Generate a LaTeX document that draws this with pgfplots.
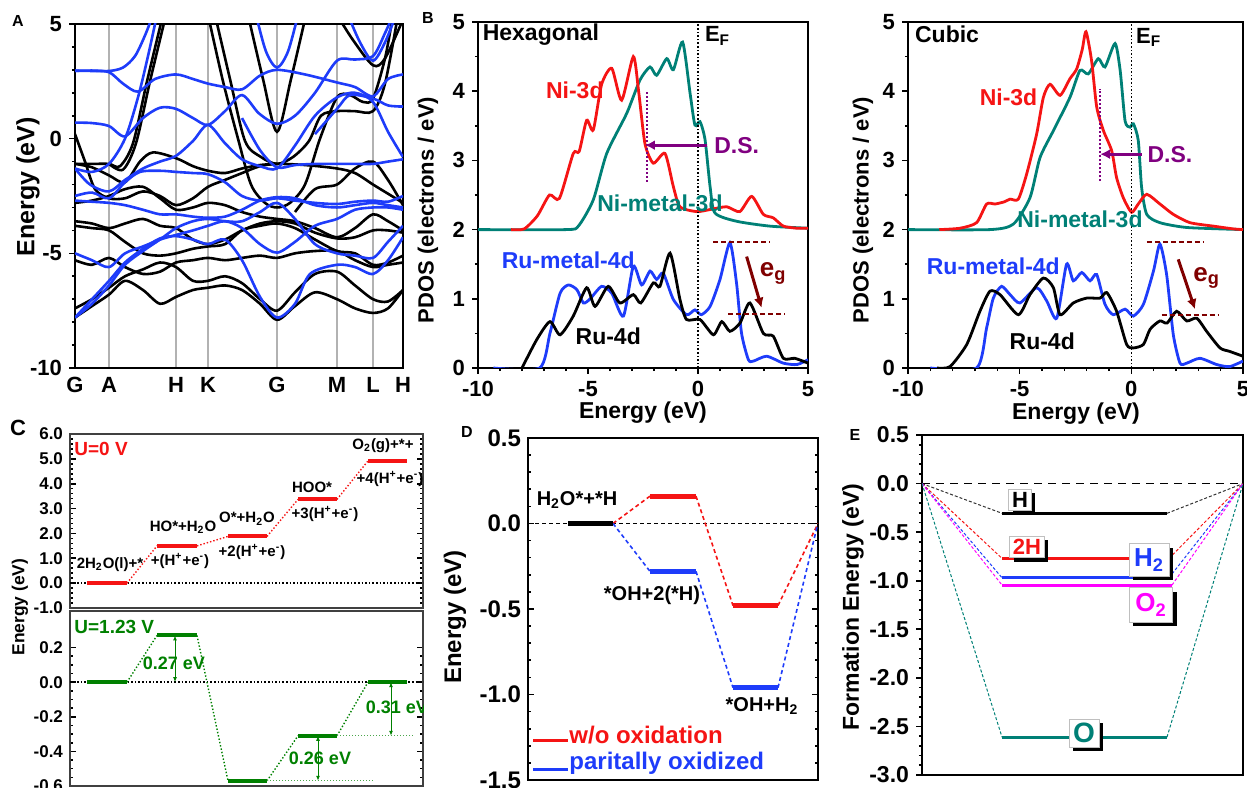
\documentclass[border=0pt]{standalone}
\usepackage{fontspec}
\setmainfont{Liberation Sans}
\usepackage{pgfplots}
\pgfplotsset{compat=1.18}
\usetikzlibrary{arrows.meta,shadows}
\definecolor{cred}{RGB}{245,20,20}
\definecolor{cteal}{RGB}{0,128,118}
\definecolor{cblue}{RGB}{30,60,250}
\definecolor{cpurple}{RGB}{128,0,128}
\definecolor{cdred}{RGB}{128,0,0}
\definecolor{cgreen}{RGB}{0,128,0}
\definecolor{cmag}{RGB}{255,0,255}
\newcommand{\fs}[1]{\fontsize{#1}{#1}\selectfont\bfseries}
\pgfplotsset{
  base/.style={scale only axis, anchor=south west,
    axis line style={line width=1pt},
    every tick/.style={black, line width=0.8pt},
    major tick length=3pt, minor tick length=1.6pt,
    /pgf/number format/assume math mode=true,
    tick label style={font=\fs{11}}},
  fix1/.style={yticklabel style={/pgf/number format/.cd, fixed, fixed zerofill, precision=1}},
}
\begin{document}
\begin{tikzpicture}
\useasboundingbox (0,0) rectangle (623.5pt,393.5pt);
% ---------- panel letters and outer labels
\node[font=\fs{8}] at (9pt,383pt) {A};
\node[font=\fs{8}] at (214pt,384.5pt) {B};
\node[font=\fs{11}] at (9pt,179.5pt) {C};
\node[font=\fs{8}] at (233.5pt,177.5pt) {D};
\node[font=\fs{8}] at (427.5pt,176pt) {E};
\node[font=\fs{12.5}, rotate=90] at (14pt,300pt) {Energy (eV)};
\node[font=\fs{11}, rotate=90] at (214pt,288.5pt) {PDOS (electrons / eV)};
\node[font=\fs{11}, rotate=90] at (431.5pt,288.5pt) {PDOS (electrons / eV)};
\node[font=\fs{11.5}] at (321.5pt,187pt) {Energy (eV)};
\node[font=\fs{11.5}] at (538pt,186.5pt) {Energy (eV)};
\node[font=\fs{8.7}, rotate=90] at (10pt,90pt) {Energy (eV)};
\node[font=\fs{12}, rotate=90] at (227.5pt,85pt) {Energy (eV)};
\node[font=\fs{11.5}, rotate=90] at (426.5pt,90pt) {Formation Energy (eV)};

% ---------- A: band structure
\begin{axis}[base, at={(37.5pt,209.5pt)}, width=164pt, height=172pt,
  xmin=0, xmax=32.8, ymin=-10, ymax=5,
  xtick={0,3.4,10.1,13.3,20.2,26.2,29.8,32.8}, xticklabels={G,A,H,K,G,M,L,H},
  xmajorgrids, grid style={gray!60, line width=0.6pt},
  x tick style={draw=none}, xticklabel style={yshift=2pt},
  ytick={-10,-5,0,5}, minor ytick={-9,-8,-7,-6,-4,-3,-2,-1,1,2,3,4},
  ytick pos=left, tick align=outside,
  every axis plot/.append style={smooth, tension=0.5, line width=1.3pt}]
\addplot[black] coordinates {(0,0.2)(1,-1.0)(2,-2.2)(3.4,-2.6)(5,-2.6)(6.8,-2.3)(8.5,-2.5)(10.1,-2.9)(11.8,-2.6)(13.3,-2.1)(15,-1.8)(16.7,-1.5)(18.5,-1.2)(20.2,-1.1)(23,-1.15)(26.2,-1.3)(28,-1.5)(29.8,-2.0)(31.3,-2.4)(32.8,-2.8)};
\addplot[black] coordinates {(0,-1.1)(1.7,-1.1)(3.4,-1.1)(4.5,-1.2)(5.8,-0.2)(7.2,2.5)(8.8,5.4)};
\addplot[black] coordinates {(3.4,-1.1)(4.8,-1.35)(6.1,-0.2)(7.5,2.5)(9.1,5.4)};
\addplot[black] coordinates {(0,-1.1)(1.7,-1.25)(3.4,-1.6)(5,-1.9)(6.5,-1.0)(7.8,-0.6)(10.1,-0.85)(11.8,-1.2)(13.3,-1.4)(15,-1.5)(16.7,-1.3)(18.5,-1.15)(20.2,-1.1)};
\addplot[black] coordinates {(13.3,5.4)(14.8,2.5)(16.3,0)(17.6,-2.0)(19,-2.8)(20.2,-3.0)(21.5,-2.8)(23,-2.0)(24.5,0.0)(26.2,1.8)(27.5,1.9)(28.8,1.6)(29.8,1.75)(31,3.5)(31.8,5.4)};
\addplot[black] coordinates {(17.3,5.4)(18.8,2.6)(20.2,0.3)(21.6,2.6)(23.1,5.4)};
\addplot[black] coordinates {(14,5.4)(15.5,2.6)(17,-0.1)(18.6,-0.8)(20.2,-1.1)(21.8,-0.8)(23.4,-0.1)(24.6,1.0)(26.2,1.2)(28,1.2)(29.8,1.2)(31,2.4)(32.3,5.4)};
\addplot[black] coordinates {(26.2,5.4)(27.8,4.3)(29.8,3.2)(31,3.5)(32.8,5.2)};
\addplot[black] coordinates {(0,-2.8)(1.7,-2.7)(3.4,-2.5)(5,-2.2)(6.8,-2.1)(8.5,-2.6)(10.1,-3.1)(11.8,-3.0)(13.3,-2.8)(15,-2.9)(16.7,-3.2)(18.5,-3.4)(20.2,-3.5)(22,-3.6)(24,-3.9)(26.2,-4.3)(28,-3.9)(29.8,-3.3)(31.3,-3.6)(32.8,-4.0)};
\addplot[black] coordinates {(0,-3.6)(1.7,-3.7)(3.4,-3.9)(5,-3.7)(6.8,-3.5)(8.5,-3.8)(10.1,-3.9)(11.8,-4.4)(13.3,-4.6)(15,-4.4)(16.7,-4.0)(18.5,-3.7)(20.2,-3.6)(22,-3.7)(24,-4.1)(26.2,-4.35)(28,-4.3)(29.8,-4.0)(31.3,-4.0)(32.8,-4.1)};
\addplot[black] coordinates {(0,-3.8)(1.7,-3.9)(3.4,-4.0)(5,-4.5)(6.8,-5.0)(8.5,-5.1)(10.1,-5.0)(11.8,-4.8)(13.3,-4.7)(15,-4.6)(16.7,-4.0)(18.5,-3.8)(20.2,-3.7)(22,-3.9)(24,-4.4)(26.2,-4.9)(28,-5.0)(29.8,-5.5)(31.3,-5.4)(32.8,-5.1)};
\addplot[black] coordinates {(0,-5.3)(1.7,-5.5)(3.4,-5.2)(5,-5.6)(6.8,-5.9)(8.5,-5.8)(10.1,-5.4)(11.8,-5.3)(13.3,-5.2)(15,-5.3)(16.7,-5.2)(18.5,-5.1)(20.2,-5.2)(22,-5.0)(24,-4.9)(26.2,-4.9)(28,-5.3)(29.8,-5.6)(31.3,-5.5)(32.8,-5.4)};
\addplot[black] coordinates {(0,-7.4)(1.7,-7.0)(3.4,-6.5)(5,-6.0)(6.8,-5.7)(8.5,-5.4)(10.1,-5.6)(11.8,-6.2)(13.3,-6.2)(15,-6.0)(16.7,-6.3)(18.5,-7.0)(20.2,-7.5)(22,-6.7)(24,-5.9)(26.2,-5.8)(28,-6.4)(29.8,-7.0)(31.3,-7.1)(32.8,-6.6)};
\addplot[black] coordinates {(0,-7.8)(1.7,-7.3)(3.4,-6.8)(5,-6.2)(6.8,-6.6)(8.5,-7.2)(10.1,-6.9)(11.8,-6.6)(13.3,-6.5)(15,-6.4)(16.7,-6.6)(18.5,-7.2)(20.2,-7.9)(22,-7.3)(24,-6.7)(26.2,-7.0)(28,-7.4)(29.8,-7.6)(31.3,-7.4)(32.8,-6.6)};
\addplot[black] coordinates {(22,-3.2)(24,-2.2)(26.2,-2.0)(28,-1.3)(29.8,-1.0)(31.3,-1.8)(32.8,-2.9)};
% blue bands
\addplot[cblue] coordinates {(0,2.96)(1.7,2.97)(3.4,2.95)(4.8,3.1)(6,3.6)(7,4.5)(7.8,5.4)};
\addplot[cblue] coordinates {(0,2.96)(1.7,2.95)(3.4,2.9)(4.8,2.4)(6.3,2.05)(8,2.6)(10.1,2.8)(11.8,2.6)(13.3,2.4)(15,2.25)(16.7,2.15)(18.5,2.75)(20.2,3.0)(23,2.8)(26.2,2.45)(28,2.25)(29.8,1.85)(31.3,2.6)(32.8,2.8)};
\addplot[cblue] coordinates {(0,0.7)(1.7,0.68)(3.4,0.55)(5,0.1)(6.8,0.9)(8.5,1.35)(10.1,1.3)(11.8,0.9)(13.3,0.6)(15,1.2)(16.7,1.9)(18.4,1.1)(20.2,0.65)(22,1.0)(24,2.0)(26.2,3.4)(28,3.45)(29.8,3.6)(31,4.6)(31.8,5.4)};
\addplot[cblue] coordinates {(0,-1.3)(1.7,-1.45)(3.4,-1.1)(5,0.0)(6.3,1.8)(7.3,3.6)(8.2,5.4)};
\addplot[cblue] coordinates {(0,-1.3)(1.5,-2.0)(3.4,-2.3)(5,-1.8)(6.8,-1.3)(8.5,-1.0)(10.1,-0.75)(11.8,-0.1)(13.3,0.6)(15,-0.2)(16.7,-0.9)(18.5,-1.2)(20.2,-1.3)(22,-0.3)(24,1.0)(26.2,1.8)(28,2.0)(29.8,1.6)(31.3,0.3)(32.8,-0.8)};
\addplot[cblue] coordinates {(0,-2.5)(1.7,-2.35)(3.4,-2.6)(5,-1.9)(6.5,-1.45)(8.5,-1.4)(10.1,-1.45)(11.8,-1.5)(13.3,-1.55)(15,-1.9)(16.7,-2.5)(18.5,-2.7)(20.2,-2.6)(22,-2.7)(24,-2.8)(26.2,-2.85)(28,-2.75)(29.8,-2.7)(31.3,-2.75)(32.8,-2.5)};
\addplot[cblue] coordinates {(0,-2.7)(1.7,-2.75)(3.4,-2.8)(5,-2.9)(6.8,-3.1)(8.5,-3.3)(10.1,-3.3)(11.8,-3.4)(13.3,-3.45)(15,-3.4)(16.7,-3.1)(18.5,-2.7)(20.2,-2.55)(22,-2.6)(24,-2.9)(26.2,-3.0)(28,-2.9)(29.8,-2.8)(31.3,-2.9)(32.8,-3.0)};
\addplot[cblue] coordinates {(0,-5.0)(1.7,-5.3)(3.4,-5.6)(5,-5.0)(6.8,-4.7)(8.5,-4.4)(10.1,-4.2)(11.8,-4.0)(13.3,-3.8)(15,-3.6)(16.7,-3.9)(18.5,-4.6)(20.2,-4.97)(22,-4.5)(24,-3.8)(26.2,-3.5)(28,-3.1)(29.8,-3.0)(31.3,-3.0)(32.8,-3.1)};
\addplot[cblue] coordinates {(0,-7.8)(1.7,-7.0)(3.4,-6.2)(5,-5.4)(6.8,-4.8)(8.5,-4.35)(10.1,-4.25)(11.8,-4.4)(13.3,-4.6)(15,-4.4)(16.7,-5.3)(18.5,-6.9)(20.2,-7.8)(22,-7.2)(23.5,-5.9)(26.2,-5.5)(28,-5.6)(29.8,-5.9)(31.3,-5.3)(32.8,-4.3)};
\addplot[cblue] coordinates {(0,-7.8)(1.7,-7.2)(3.4,-6.4)(5,-5.5)(6.8,-4.9)(8.5,-4.4)(10.1,-3.9)(11.8,-3.6)(13.3,-3.5)(15,-3.6)(16.7,-3.6)(18.5,-3.2)(20.2,-2.8)(22,-3.5)(24,-4.6)(26.2,-5.0)(28,-5.1)(29.8,-5.2)(31.3,-4.5)(32.8,-3.8)};
\addplot[cblue] coordinates {(18.1,5.4)(19.1,3.8)(20.2,3.1)(21.3,3.8)(22.3,5.4)};
\addplot[cblue] coordinates {(27.3,5.4)(28.5,4.2)(29.8,3.4)(31,4.2)(32.1,5.4)};
\addplot[cblue] coordinates {(16.7,0.9)(18.5,-0.5)(20.2,-1.25)(22,-1.15)(24,-1.1)(26.2,-1.1)(28,-1.1)(29.8,-1.1)(31.3,-1.0)(32.8,-0.9)};
\addplot[cblue] coordinates {(24,0.2)(26.2,1.3)(27.5,1.9)(29.8,1.75)(31.3,1.45)(32.8,1.4)};
\end{axis}

% ---------- B hexagonal
\begin{axis}[base, at={(239pt,209.5pt)}, width=165pt, height=173pt,
  xmin=-10, xmax=5, ymin=0, ymax=5, xtick={-10,-5,0,5}, ytick={0,1,2,3,4,5},
  minor x tick num=4, minor y tick num=1, xtick pos=bottom, ytick pos=left, tick align=outside,
  every axis plot/.append style={smooth, tension=0.4, line width=1.4pt}]
\addplot[cteal] coordinates {(-10,2.0)(-6,2.0)(-5.44,2.05)(-4.76,2.43)(-4.15,3.1)(-3.24,3.68)(-2.64,4.16)(-2.18,4.35)(-1.88,4.23)(-1.42,4.47)(-1.12,4.31)(-0.7,4.71)(-0.36,3.97)(-0.14,3.51)(0.09,3.56)(0.32,3.3)(0.55,2.62)(0.77,2.24)(1.76,2.12)(3.27,2.05)(5,2.02)};
\addplot[cred] coordinates {(-8.5,2.0)(-7.9,2.01)(-7.3,2.2)(-6.75,2.5)(-6.3,2.45)(-5.67,3.1)(-5.4,3.13)(-5.06,3.58)(-4.76,3.44)(-4.38,4.1)(-3.92,4.33)(-3.47,3.87)(-2.94,4.5)(-2.7,4.0)(-2.41,3.24)(-2.03,2.96)(-1.5,3.1)(-1.12,2.62)(-0.82,2.33)(-0.06,2.26)(0.55,2.29)(1.3,2.33)(1.9,2.26)(2.44,2.48)(2.97,2.22)(3.42,2.17)(3.88,2.05)(4.5,2.02)(5,2.02)};
\addplot[cblue] coordinates {(-9.3,0)(-7.2,0)(-6.73,0.5)(-6.27,1.08)(-5.89,1.2)(-5.5,1.13)(-5.21,0.94)(-4.9,1.0)(-4.38,1.18)(-3.92,1.08)(-3.39,0.75)(-2.94,1.47)(-2.56,1.2)(-2.18,1.4)(-1.88,1.28)(-1.58,1.37)(-1.12,0.99)(-0.52,0.77)(-0.14,0.84)(0.15,0.77)(0.55,0.89)(1.0,1.28)(1.45,1.81)(1.75,1.23)(1.98,0.5)(2.29,0.12)(2.52,0.1)(3.12,0.17)(3.88,0.07)(4.5,0.05)(5,0.12)};
\addplot[black] coordinates {(-8.0,0)(-7.33,0.41)(-6.73,0.67)(-6.27,0.48)(-5.67,0.75)(-5.06,1.16)(-4.68,0.89)(-4.08,1.18)(-3.55,0.94)(-2.94,1.06)(-2.6,0.94)(-2.03,1.23)(-1.73,1.18)(-1.27,1.66)(-0.82,0.99)(-0.52,0.7)(0.09,0.7)(0.7,0.48)(1.08,0.67)(1.45,0.53)(1.91,0.65)(2.36,0.94)(2.97,0.5)(3.42,0.46)(3.88,0.14)(4.4,0.14)(5,0.07)};
\draw[densely dotted, line width=0.8pt] (axis cs:0,0) -- (axis cs:0,5);
\node[font=\fs{11.5}, anchor=west, inner sep=0pt] at (axis cs:-9.8,4.82) {Hexagonal};
\node[font=\fs{11}, anchor=west, inner sep=0pt] at (axis cs:0.3,4.8) {E\textsubscript{F}};
\node[font=\fs{11.5}, text=cred] at (axis cs:-5.6,4.01) {Ni-3d};
\node[font=\fs{11.5}, text=cteal] at (axis cs:-1.73,2.38) {Ni-metal-3d};
\node[font=\fs{11.5}, text=cblue] at (axis cs:-5.9,1.56) {Ru-metal-4d};
\node[font=\fs{11.5}, text=black] at (axis cs:-4.08,0.46) {Ru-4d};
\node[font=\fs{11.5}, text=cpurple] at (axis cs:1.76,3.22) {D.S.};
\draw[cpurple, densely dotted, line width=1pt] (axis cs:-2.33,2.69) -- (axis cs:-2.33,4.01);
\draw[cpurple, line width=1.5pt, -{Latex[length=5pt,width=5pt]}] (axis cs:0.39,3.22) -- (axis cs:-2.41,3.22);
\draw[cdred, dash pattern=on 2.5pt off 1.5pt, line width=0.8pt] (axis cs:0.7,1.82) -- (axis cs:3.27,1.82);
\draw[cdred, dash pattern=on 2.5pt off 1.5pt, line width=0.8pt] (axis cs:1.38,0.78) -- (axis cs:3.95,0.78);
\draw[cdred, line width=1.5pt, -{Latex[length=5pt,width=5pt]}] (axis cs:2.21,1.61) -- (axis cs:2.89,0.87);
\node[font=\fs{13}, text=cdred] at (axis cs:3.42,1.37) {e\textsubscript{g}};
\end{axis}

% ---------- B cubic
\begin{axis}[base, at={(454pt,209.5pt)}, width=167.5pt, height=173pt,
  xmin=-10, xmax=5, ymin=0, ymax=5, xtick={-10,-5,0,5}, ytick={0,1,2,3,4,5},
  minor x tick num=4, minor y tick num=1, xtick pos=bottom, ytick pos=left, tick align=outside,
  every axis plot/.append style={smooth, tension=0.4, line width=1.4pt}]
\addplot[cteal] coordinates {(-10,2.0)(-6.33,2.0)(-5.28,2.08)(-4.54,2.46)(-4.09,3.04)(-3.49,3.43)(-2.75,3.91)(-2.3,4.3)(-1.93,4.25)(-1.48,4.47)(-1.18,4.35)(-0.73,4.69)(-0.5,4.3)(-0.28,3.57)(-0.06,3.48)(0.09,3.53)(0.31,3.29)(0.46,2.61)(0.69,2.22)(1.28,2.1)(2.5,2.03)(5,2.0)};
\addplot[cred] coordinates {(-8.6,2.0)(-7.67,2.02)(-6.93,2.1)(-6.48,2.37)(-6.1,2.37)(-5.7,2.4)(-5.43,2.44)(-5.06,2.44)(-4.69,2.8)(-4.24,3.38)(-3.94,3.91)(-3.64,4.1)(-3.19,3.94)(-2.75,4.18)(-2.45,4.32)(-2.2,4.6)(-2.03,4.86)(-1.78,4.44)(-1.55,3.77)(-1.25,3.43)(-0.88,3.14)(-0.66,2.75)(-0.36,2.46)(0.01,2.25)(0.31,2.37)(0.69,2.51)(1.28,2.37)(1.88,2.22)(2.63,2.1)(3.67,2.05)(4.57,2.01)(5,2.0)};
\addplot[cblue] coordinates {(-9.0,0)(-6.93,0)(-6.48,0.58)(-6.18,1.01)(-5.81,1.18)(-5.43,1.06)(-4.99,0.94)(-4.24,1.16)(-3.79,0.97)(-3.34,0.72)(-2.9,1.5)(-2.6,1.26)(-2.22,1.38)(-1.85,1.26)(-1.55,1.35)(-1.18,0.92)(-0.81,0.77)(-0.28,0.85)(0.09,0.75)(0.54,0.92)(0.99,1.4)(1.28,1.79)(1.58,1.35)(1.88,0.48)(2.18,0.07)(2.48,0.07)(3.07,0.14)(3.82,0.05)(4.4,0.02)(5,0.1)};
\addplot[black] coordinates {(-8.7,0)(-8.12,0.02)(-7.37,0.34)(-6.78,0.82)(-6.33,1.11)(-5.88,1.06)(-5.06,0.77)(-4.54,1.06)(-3.94,1.3)(-3.49,1.16)(-3.19,0.77)(-2.6,0.94)(-2.0,1.01)(-1.4,1.01)(-1.1,1.09)(-0.66,0.82)(-0.21,0.34)(0.09,0.29)(0.54,0.34)(0.84,0.56)(1.28,0.68)(1.6,0.65)(2.03,0.82)(2.48,0.68)(2.93,0.72)(3.37,0.53)(3.97,0.29)(4.4,0.24)(5,0.17)};
\draw[densely dotted, line width=0.8pt] (axis cs:0,0) -- (axis cs:0,5);
\node[font=\fs{11.5}, anchor=west, inner sep=0pt] at (axis cs:-9.7,4.82) {Cubic};
\node[font=\fs{11}, anchor=west, inner sep=0pt] at (axis cs:0.2,4.78) {E\textsubscript{F}};
\node[font=\fs{11.5}, text=cred] at (axis cs:-5.5,3.91) {Ni-3d};
\node[font=\fs{11.5}, text=cteal] at (axis cs:-2.3,2.15) {Ni-metal-3d};
\node[font=\fs{11.5}, text=cblue] at (axis cs:-6.18,1.47) {Ru-metal-4d};
\node[font=\fs{11.5}, text=black] at (axis cs:-3.99,0.39) {Ru-4d};
\node[font=\fs{11.5}, text=cpurple] at (axis cs:1.73,3.09) {D.S.};
\draw[cpurple, densely dotted, line width=1pt] (axis cs:-1.4,2.7) -- (axis cs:-1.4,4.03);
\draw[cpurple, line width=1.5pt, -{Latex[length=5pt,width=5pt]}] (axis cs:0.46,3.09) -- (axis cs:-1.4,3.09);
\draw[cdred, dash pattern=on 2.5pt off 1.5pt, line width=0.8pt] (axis cs:0.69,1.82) -- (axis cs:3.22,1.82);
\draw[cdred, dash pattern=on 2.5pt off 1.5pt, line width=0.8pt] (axis cs:1.36,0.77) -- (axis cs:3.9,0.77);
\draw[cdred, line width=1.5pt, -{Latex[length=5pt,width=5pt]}] (axis cs:2.1,1.57) -- (axis cs:2.85,0.85);
\node[font=\fs{13}, text=cdred] at (axis cs:3.37,1.3) {e\textsubscript{g}};
\end{axis}

% ---------- C top (U = 0 V)
\begin{axis}[base, fix1, at={(35pt,89.5pt)}, width=176.5pt, height=87pt,
  xmin=70, xmax=423, ymin=-1, ymax=6, xtick=\empty, ytick={-1,0,1,2,3,4,5,6},
  minor y tick num=4, tick align=inside, axis line style={line width=0.9pt, black!75},
  tick label style={font=\fs{8.5}}]
\draw[densely dotted, line width=0.8pt] (axis cs:70,0) -- (axis cs:423,0);
\draw[cred, densely dotted, line width=0.7pt] (axis cs:127,0) -- (axis cs:157,1.5) (axis cs:197,1.5) -- (axis cs:228,1.88) (axis cs:267,1.88) -- (axis cs:298,3.37) (axis cs:337,3.37) -- (axis cs:368,4.92);
\addplot[cred, line width=2pt] coordinates {(87,0)(127,0)};
\addplot[cred, line width=2pt] coordinates {(157,1.5)(197,1.5)};
\addplot[cred, line width=2pt] coordinates {(228,1.88)(267,1.88)};
\addplot[cred, line width=2pt] coordinates {(298,3.37)(337,3.37)};
\addplot[cred, line width=2pt] coordinates {(368,4.92)(407,4.92)};
\node[font=\fs{9.5}, text=cred, anchor=west, inner sep=0pt] at (axis cs:74,5.4) {U=0 V};
\node[font=\fs{7.5}] at (axis cs:110,0.75) {2H\textsubscript{2}O(l)+*};
\node[font=\fs{7.5}] at (axis cs:183,2.25) {HO*+H\textsubscript{2}O};
\node[font=\fs{7.5}] at (axis cs:180,0.91) {+(H\textsuperscript{+}+e\textsuperscript{-})};
\node[font=\fs{7.5}] at (axis cs:247,2.59) {O*+H\textsubscript{2}O};
\node[font=\fs{7.5}] at (axis cs:252,1.25) {+2(H\textsuperscript{+}+e\textsuperscript{-})};
\node[font=\fs{7.5}] at (axis cs:312,3.86) {HOO*};
\node[font=\fs{7.5}] at (axis cs:325,2.79) {+3(H\textsuperscript{+}+e\textsuperscript{-})};
\node[font=\fs{7.5}] at (axis cs:383,5.54) {O\textsubscript{2}(g)+*+};
\node[font=\fs{7.5}] at (axis cs:390,4.2) {+4(H\textsuperscript{+}+e\textsuperscript{-})};
\end{axis}

% ---------- C bottom (U = 1.23 V)
\begin{axis}[base, fix1, at={(35pt,0.5pt)}, width=176.5pt, height=87.4pt,
  xmin=70, xmax=423, ymin=-0.6, ymax=0.41, xtick=\empty, ytick={-0.6,-0.4,-0.2,0,0.2},
  minor y tick num=3, tick align=inside, axis line style={line width=0.9pt, black!75},
  tick label style={font=\fs{8.5}}]
\draw[densely dotted, line width=0.8pt] (axis cs:70,0) -- (axis cs:423,0);
\draw[cgreen, densely dotted, line width=0.7pt] (axis cs:127,0) -- (axis cs:157,0.27) (axis cs:197,0.27) -- (axis cs:228,-0.57) (axis cs:267,-0.57) -- (axis cs:298,-0.31) (axis cs:337,-0.31) -- (axis cs:368,0);
\draw[cgreen!70, densely dotted, line width=0.5pt] (axis cs:267,-0.57) -- (axis cs:375,-0.57) (axis cs:337,-0.31) -- (axis cs:413,-0.31);
\addplot[cgreen, line width=2pt] coordinates {(87,0)(127,0)};
\addplot[cgreen, line width=2pt] coordinates {(157,0.27)(197,0.27)};
\addplot[cgreen, line width=2pt] coordinates {(228,-0.57)(267,-0.57)};
\addplot[cgreen, line width=2pt] coordinates {(298,-0.31)(337,-0.31)};
\addplot[cgreen, line width=2pt] coordinates {(368,0)(407,0)};
\draw[cgreen, line width=0.5pt, {Latex[length=2.5pt,width=2pt]}-{Latex[length=2.5pt,width=2pt]}] (axis cs:175,0) -- (axis cs:175,0.27);
\draw[cgreen, line width=0.5pt, {Latex[length=2.5pt,width=2pt]}-{Latex[length=2.5pt,width=2pt]}] (axis cs:318,-0.57) -- (axis cs:318,-0.31);
\draw[cgreen, line width=0.5pt, {Latex[length=2.5pt,width=2pt]}-{Latex[length=2.5pt,width=2pt]}] (axis cs:391,-0.31) -- (axis cs:391,0);
\node[font=\fs{9.5}, text=cgreen, anchor=west, inner sep=0pt] at (axis cs:74,0.32) {U=1.23 V};
\node[font=\fs{9}, text=cgreen] at (axis cs:174,0.11) {0.27 eV};
\node[font=\fs{9}, text=cgreen] at (axis cs:320,-0.44) {0.26 eV};
\node[font=\fs{9}, text=cgreen] at (axis cs:397,-0.145) {0.31 eV};
\end{axis}

% ---------- D
\begin{axis}[base, fix1, at={(264pt,3.5pt)}, width=145pt, height=171pt,
  xmin=528, xmax=818, ymin=-1.5, ymax=0.5, xtick=\empty, ytick={-1.5,-1,-0.5,0,0.5},
  minor y tick num=4, tick align=inside, tick label style={font=\fs{12}}]
\draw[dash pattern=on 2pt off 1.5pt, line width=0.8pt] (axis cs:528,0) -- (axis cs:818,0);
\draw[cred, dash pattern=on 2pt off 1.5pt, line width=0.8pt] (axis cs:613,0) -- (axis cs:650,0.16) (axis cs:696,0.16) -- (axis cs:733,-0.48) (axis cs:778,-0.48) -- (axis cs:818,0);
\draw[cblue, dash pattern=on 2pt off 1.5pt, line width=0.8pt] (axis cs:613,0) -- (axis cs:650,-0.28) (axis cs:696,-0.28) -- (axis cs:733,-0.96) (axis cs:778,-0.96) -- (axis cs:817,-0.02);
\addplot[black, line width=2.6pt] coordinates {(568,0)(613,0)};
\addplot[cred, line width=2.6pt] coordinates {(650,0.16)(696,0.16)};
\addplot[cblue, line width=2.6pt] coordinates {(650,-0.28)(696,-0.28)};
\addplot[cred, line width=2.6pt] coordinates {(733,-0.48)(778,-0.48)};
\addplot[cblue, line width=2.6pt] coordinates {(733,-0.96)(778,-0.96)};
\node[font=\fs{10}] at (axis cs:577,0.14) {H\textsubscript{2}O*+*H};
\node[font=\fs{10}] at (axis cs:652,-0.42) {*OH+2(*H)};
\node[font=\fs{10}] at (axis cs:762,-1.07) {*OH+H\textsubscript{2}};
\draw[cred, line width=1.3pt] (axis cs:533,-1.27) -- (axis cs:568,-1.27);
\draw[cblue, line width=1.3pt] (axis cs:533,-1.44) -- (axis cs:568,-1.44);
\node[font=\fs{12}, text=cred, anchor=west, inner sep=0pt] at (axis cs:569,-1.235) {w/o oxidation};
\node[font=\fs{12}, text=cblue, anchor=west, inner sep=0pt] at (axis cs:569,-1.405) {paritally oxidized};
\end{axis}

% ---------- E
\begin{axis}[base, fix1, at={(461pt,6pt)}, width=160.5pt, height=170pt,
  xmin=922, xmax=1243, ymin=-3, ymax=0.5, xtick=\empty,
  ytick={-3,-2.5,-2,-1.5,-1,-0.5,0,0.5}, minor y tick num=4, ytick pos=left, tick align=outside,
  tick label style={font=\fs{11.5}}]
\draw[dash pattern=on 4pt off 3pt, line width=0.8pt] (axis cs:922,0) -- (axis cs:1243,0);
\draw[black!80, dash pattern=on 1.5pt off 1pt, line width=0.5pt] (axis cs:922,0) -- (axis cs:1002,-0.306) (axis cs:1167,-0.306) -- (axis cs:1243,0);
\draw[cred, dash pattern=on 1.5pt off 1pt, line width=0.5pt] (axis cs:922,0) -- (axis cs:1002,-0.77) (axis cs:1169,-0.77) -- (axis cs:1243,0);
\draw[cblue, dash pattern=on 1.5pt off 1pt, line width=0.5pt] (axis cs:922,0) -- (axis cs:1002,-0.97) (axis cs:1169,-0.97) -- (axis cs:1243,0);
\draw[cmag, dash pattern=on 1.5pt off 1pt, line width=0.5pt] (axis cs:922,0) -- (axis cs:1002,-1.045) (axis cs:1172,-1.045) -- (axis cs:1243,0);
\draw[cteal, dash pattern=on 1.5pt off 1pt, line width=0.5pt] (axis cs:922,0) -- (axis cs:1002,-2.61) (axis cs:1167,-2.61) -- (axis cs:1243,0);
\addplot[black, line width=1.5pt] coordinates {(1002,-0.306)(1167,-0.306)};
\addplot[cred, line width=1.5pt] coordinates {(1002,-0.77)(1169,-0.77)};
\addplot[cblue, line width=1.5pt] coordinates {(1002,-0.97)(1169,-0.97)};
\addplot[cmag, line width=1.5pt] coordinates {(1002,-1.045)(1172,-1.045)};
\addplot[cteal, line width=1.5pt] coordinates {(1002,-2.61)(1167,-2.61)};
\tikzset{ebox/.style={draw=gray!50, fill=white, line width=0.4pt, inner sep=1.6pt,
  drop shadow={shadow xshift=2pt, shadow yshift=-2pt, opacity=1, fill=black}}}
\node[ebox, font=\fs{11}] at (axis cs:1020,-0.169) {H};
\node[ebox, font=\fs{11}, text=cred] at (axis cs:1027,-0.653) {2H};
\node[ebox, font=\fs{13}, text=cblue, inner sep=2.5pt] at (axis cs:1149,-0.787) {H\textsubscript{2}};
\node[ebox, font=\fs{13}, text=cmag, inner sep=3pt] at (axis cs:1151,-1.25) {O\textsubscript{2}};
\node[ebox, font=\fs{14}, text=cteal, inner sep=2pt] at (axis cs:1084,-2.57) {O};
\end{axis}
\end{tikzpicture}
\end{document}
